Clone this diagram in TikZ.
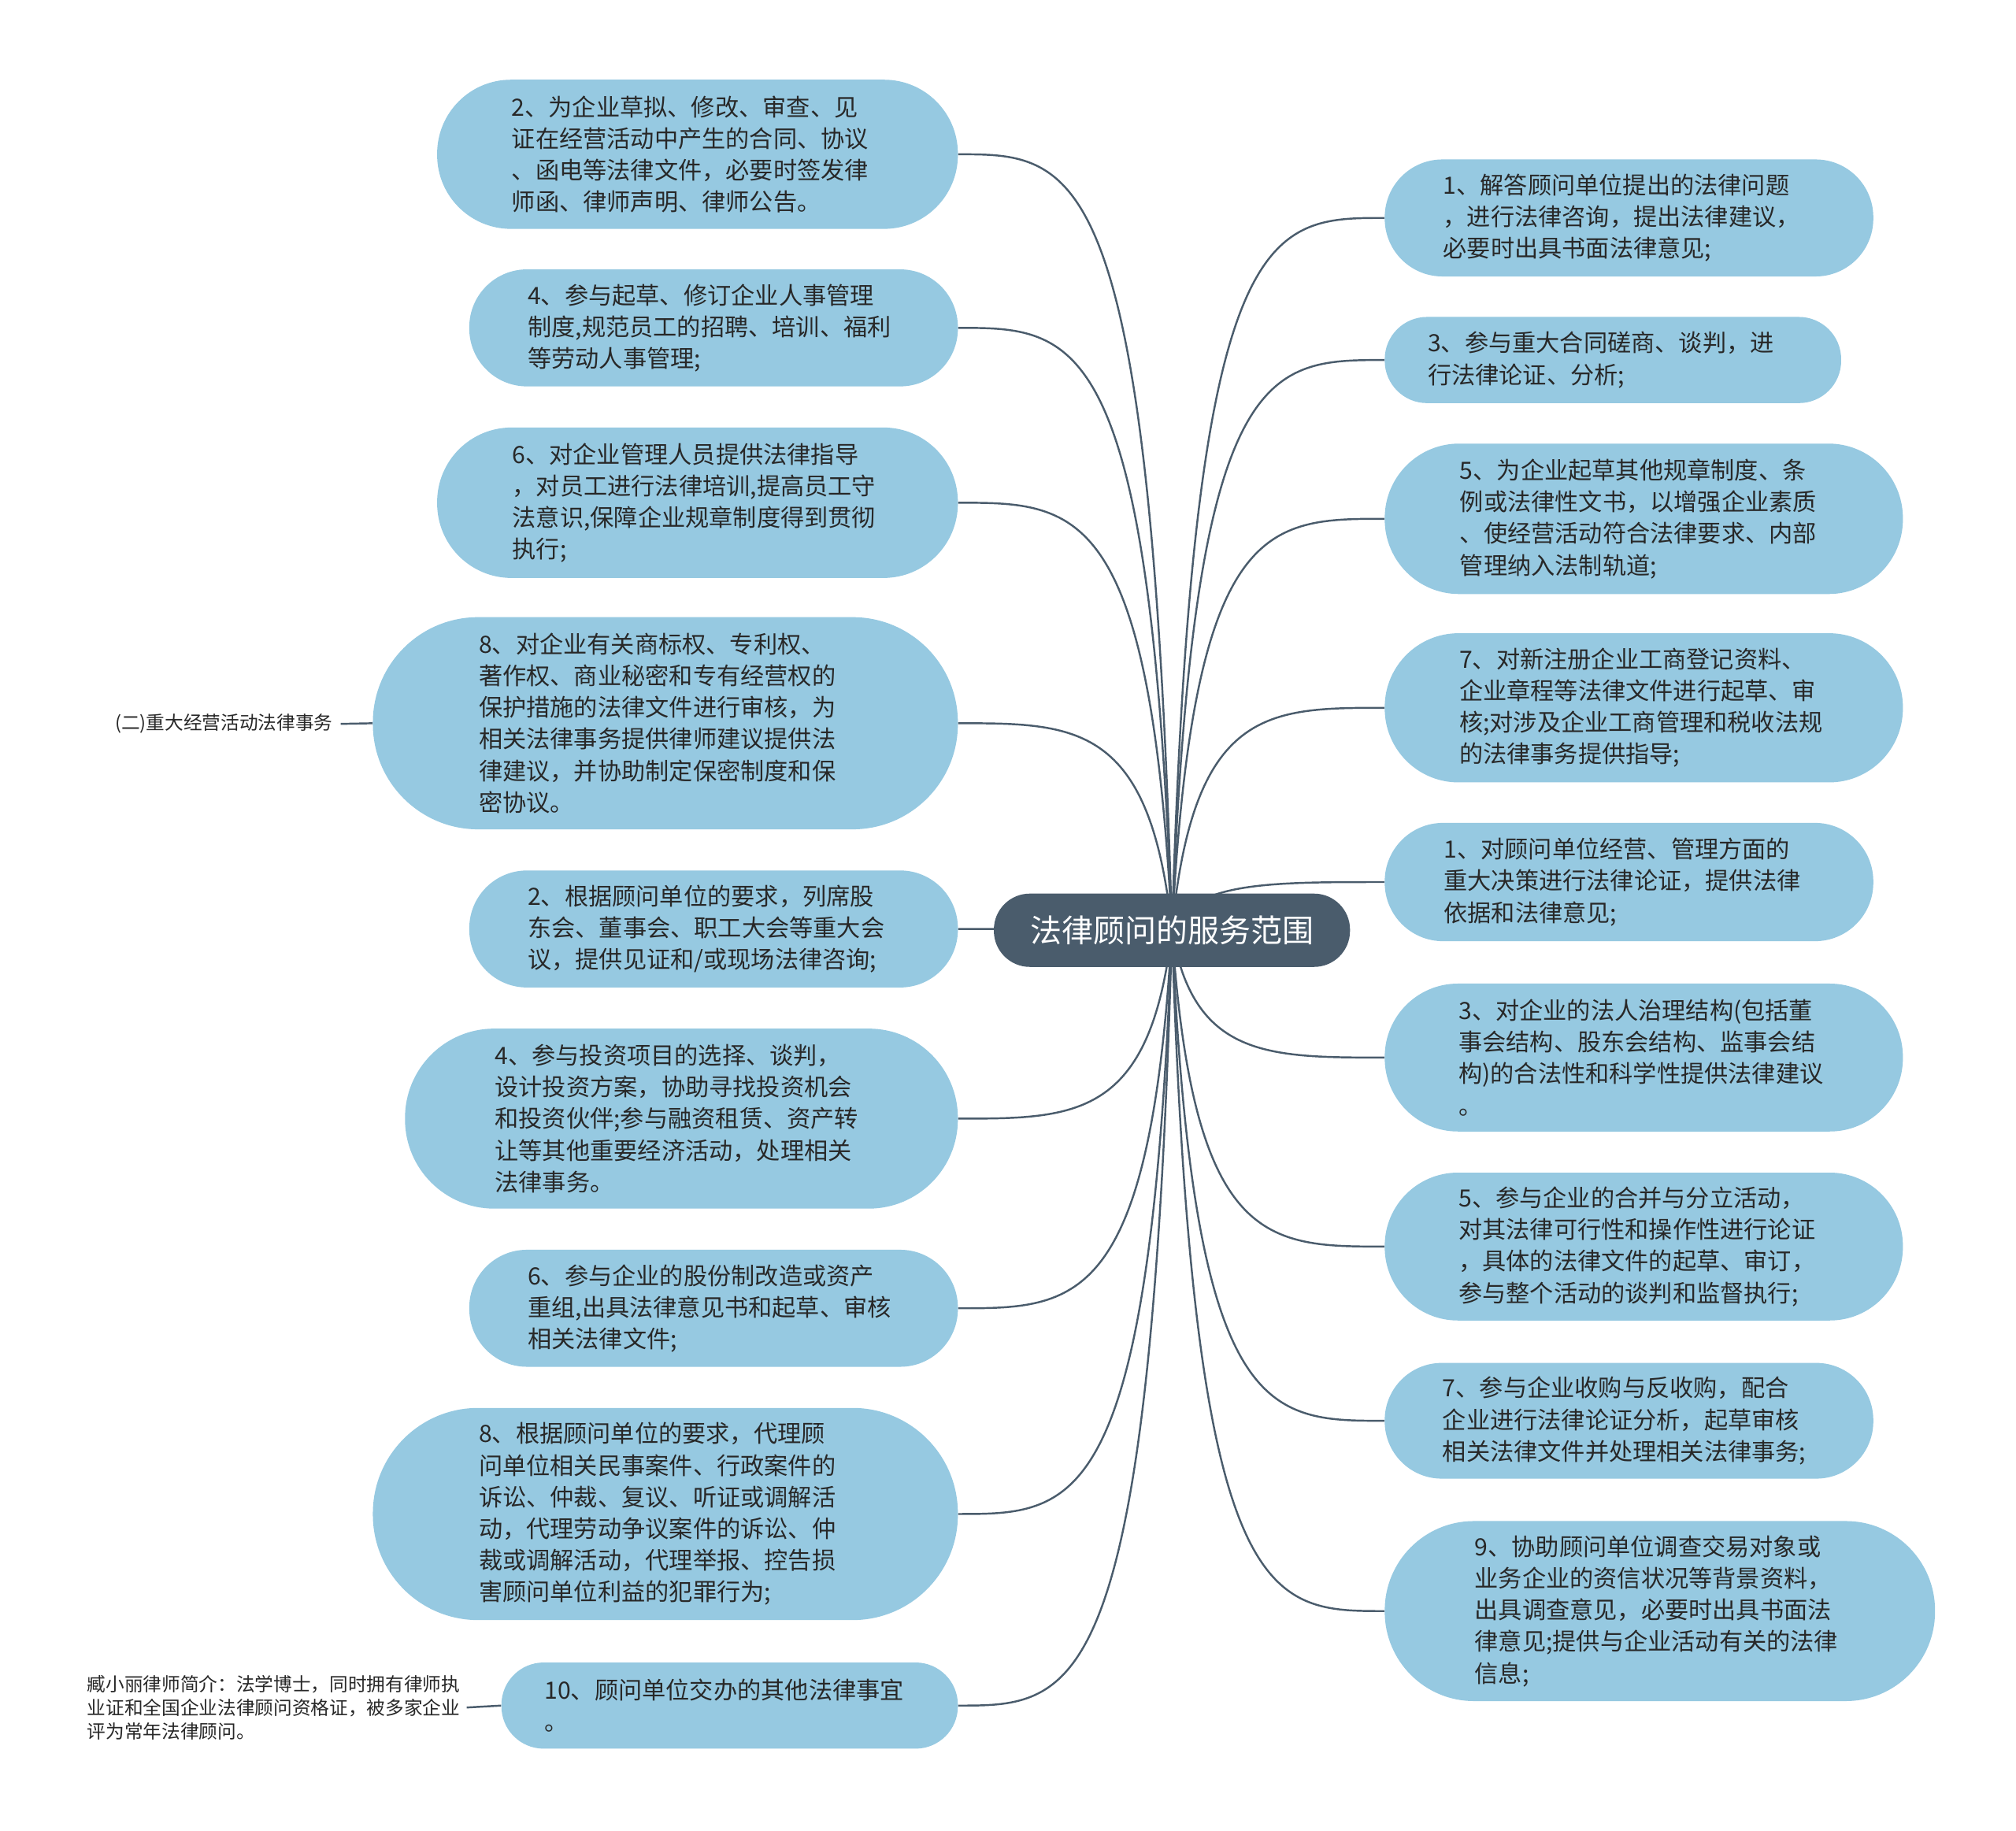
\documentclass[tikz,border=0pt]{standalone}
\usepackage{fontspec}
\setmainfont{Noto Sans CJK SC}
\usetikzlibrary{calc,backgrounds}
\definecolor{nodefill}{RGB}{150,201,225}
\definecolor{hubfill}{RGB}{74,92,108}
\definecolor{linec}{RGB}{74,92,108}
\definecolor{txt}{RGB}{40,40,40}
\tikzset{
  leaf/.style={fill=nodefill, text=txt, align=left, inner sep=0pt,
    font=\fontsize{18.5}{24.6}\selectfont},
  hubbox/.style={fill=hubfill, text=white, inner sep=0pt, minimum width=277pt,
    minimum height=57pt, rounded corners=28pt, font=\fontsize{24.5}{28}\selectfont},
  conn/.style={draw=linec, line width=1.5pt},
  notetext/.style={text=txt, align=left, inner sep=0pt,
    font=\fontsize{14.5}{18.5}\selectfont}
}
\newcommand\leafnode[6]{%
  \pgfmathsetmacro\myrad{#5/2-0.6}%
  \pgfmathsetmacro\mytw{#4-#5}%
  \node[leaf, text width=\mytw pt, minimum width=#4pt, minimum height=#5pt, rounded corners=\myrad pt] (#1) at (#2,#3) {#6};}
\newcommand\branchto[1]{%
  \draw[conn] let \p1=(hub.center), \p2=(#1) in
    (\p1) .. controls ({\x1+0.1*(\x2-\x1)},\y2) and ({\x1+0.45*(\x2-\x1)},\y2) .. (\p2);}
\begin{document}
\begin{tikzpicture}[x=1pt,y=-1pt]
\useasboundingbox (0,0) rectangle (1568,1424);

% central topic
\node[hubbox] (hub) at (911.5,723.5) {法律顾问的服务范围};

% left branches
\leafnode{L1}{542.5}{120}{405}{116}{2、为企业草拟、修改、审查、见\\证在经营活动中产生的合同、协议\\、函电等法律文件，必要时签发律\\师函、律师声明、律师公告。}
\leafnode{L2}{555}{255}{380}{91}{4、参与起草、修订企业人事管理\\制度,规范员工的招聘、培训、福利\\等劳动人事管理;}
\leafnode{L3}{542.5}{391}{405}{117}{6、对企业管理人员提供法律指导\\，对员工进行法律培训,提高员工守\\法意识,保障企业规章制度得到贯彻\\执行;}
\leafnode{L4}{517.5}{562.5}{455}{165}{8、对企业有关商标权、专利权、\\著作权、商业秘密和专有经营权的\\保护措施的法律文件进行审核，为\\相关法律事务提供律师建议提供法\\律建议，并协助制定保密制度和保\\密协议。}
\leafnode{L5}{555}{722.5}{380}{91}{2、根据顾问单位的要求，列席股\\东会、董事会、职工大会等重大会\\议，提供见证和/或现场法律咨询;}
\leafnode{L6}{530}{870}{430}{140}{4、参与投资项目的选择、谈判，\\设计投资方案，协助寻找投资机会\\和投资伙伴;参与融资租赁、资产转\\让等其他重要经济活动，处理相关\\法律事务。}
\leafnode{L7}{555}{1017.5}{380}{91}{6、参与企业的股份制改造或资产\\重组,出具法律意见书和起草、审核\\相关法律文件;}
\leafnode{L8}{517.5}{1177.5}{455}{165}{8、根据顾问单位的要求，代理顾\\问单位相关民事案件、行政案件的\\诉讼、仲裁、复议、听证或调解活\\动，代理劳动争议案件的诉讼、仲\\裁或调解活动，代理举报、控告损\\害顾问单位利益的犯罪行为;}
\leafnode{L9}{567.5}{1326.5}{355}{67}{10、顾问单位交办的其他法律事宜\\。}

% right branches
\leafnode{R1}{1267}{169.5}{380}{91}{1、解答顾问单位提出的法律问题\\，进行法律咨询，提出法律建议，\\必要时出具书面法律意见;}
\leafnode{R2}{1254.5}{280}{355}{67}{3、参与重大合同磋商、谈判，进\\行法律论证、分析;}
\leafnode{R3}{1278.5}{403.5}{403}{117}{5、为企业起草其他规章制度、条\\例或法律性文书，以增强企业素质\\、使经营活动符合法律要求、内部\\管理纳入法制轨道;}
\leafnode{R4}{1278.5}{550.5}{403}{116}{7、对新注册企业工商登记资料、\\企业章程等法律文件进行起草、审\\核;对涉及企业工商管理和税收法规\\的法律事务提供指导;}
\leafnode{R5}{1267}{686}{380}{92}{1、对顾问单位经营、管理方面的\\重大决策进行法律论证，提供法律\\依据和法律意见;}
\leafnode{R6}{1278.5}{822.5}{403}{115}{3、对企业的法人治理结构(包括董\\事会结构、股东会结构、监事会结\\构)的合法性和科学性提供法律建议\\。}
\leafnode{R7}{1278.5}{969.5}{403}{115}{5、参与企业的合并与分立活动，\\对其法律可行性和操作性进行论证\\，具体的法律文件的起草、审订，\\参与整个活动的谈判和监督执行;}
\leafnode{R8}{1267}{1105}{380}{90}{7、参与企业收购与反收购，配合\\企业进行法律论证分析，起草审核\\相关法律文件并处理相关法律事务;}
\leafnode{R9}{1291}{1253}{428}{140}{9、协助顾问单位调查交易对象或\\业务企业的资信状况等背景资料，\\出具调查意见，必要时出具书面法\\律意见;提供与企业活动有关的法律\\信息;}

% side notes
\node[notetext, anchor=east] (N1) at (259,563) {(二)重大经营活动法律事务};
\node[notetext, anchor=east] (N2) at (358,1328) {臧小丽律师简介：法学博士，同时拥有律师执\\业证和全国企业法律顾问资格证，被多家企业\\评为常年法律顾问。};

\begin{scope}[on background layer]
  \fill[white] (0,0) rectangle (1568,1424);
  \foreach \bnm in {L1,L2,L3,L4,L5,L6,L7,L8,L9} {\branchto{\bnm.east}}
  \foreach \bnm in {R1,R2,R3,R4,R5,R6,R7,R8,R9} {\branchto{\bnm.west}}
  \draw[conn] ([xshift=6pt]N1.east) -- (L4.west);
  \draw[conn] ([xshift=5pt]N2.east) -- (L9.west);
\end{scope}
\end{tikzpicture}
\end{document}
